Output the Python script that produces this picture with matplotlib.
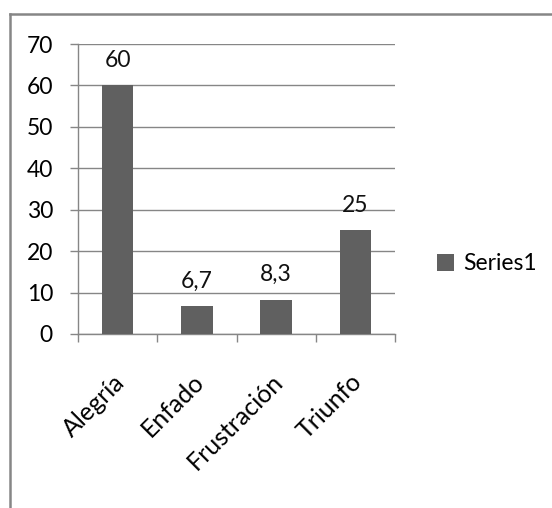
import matplotlib
matplotlib.use('Agg')
import matplotlib.pyplot as plt
import matplotlib.transforms as mtransforms
from matplotlib.lines import Line2D

categories = ['Alegría', 'Enfado', 'Frustración', 'Triunfo']
values = [60, 6.7, 8.3, 25]
value_labels = ['60', '6,7', '8,3', '25']
series_name = 'Series1'
yticks = [0, 10, 20, 30, 40, 50, 60, 70]

plt.rcParams['font.family'] = ['Lato', 'DejaVu Sans']
grey = '#868686'
bar_color = '#606060'
fs = 16.5

fig = plt.figure(figsize=(5.52, 5.08), dpi=100)
ax = fig.add_axes([78 / 552, 1 - 334 / 508, (395 - 78) / 552, (334 - 44) / 508])

x = range(len(categories))
bars = ax.bar(x, values, width=0.4, color=bar_color, label=series_name, zorder=3)

for b, lab in zip(bars, value_labels):
    ax.annotate(lab, (b.get_x() + b.get_width() / 2, b.get_height()),
                xytext=(0, 10.5), textcoords='offset points',
                ha='center', va='bottom', fontsize=fs, color='#111111')

ax.set_xlim(-0.5, len(categories) - 0.5)
ax.set_ylim(0, 70)
ax.set_yticks(yticks)
ax.yaxis.grid(True, color=grey, linewidth=1, zorder=0)
ax.set_axisbelow(True)

ax.set_xticks(list(x))
ax.set_xticklabels(categories, rotation=45, ha='right', rotation_mode='anchor')
ax.set_xticks([i - 0.5 for i in range(len(categories) + 1)], minor=True)
ax.tick_params(axis='x', which='major', length=0, pad=26, labelsize=18)
ax.tick_params(axis='x', which='minor', length=6, width=1, color=grey, direction='out')
ax.tick_params(axis='y', length=6, width=1, color=grey, pad=12, labelsize=fs)

# nudge category labels left a bit, like the original
shift = mtransforms.ScaledTranslation(-5 / 100, 0, fig.dpi_scale_trans)
for t in ax.get_xticklabels():
    t.set_transform(t.get_transform() + shift)

for s in ['top', 'right']:
    ax.spines[s].set_visible(False)
for s in ['left', 'bottom']:
    ax.spines[s].set_color(grey)
    ax.spines[s].set_linewidth(1)

fig.legend(loc='center left', bbox_to_anchor=(437 / 552, 1 - 264 / 508),
           frameon=False, fontsize=fs, handlelength=0.75, handleheight=0.75,
           handletextpad=0.4, borderpad=0, borderaxespad=0)

# chart outline: only top and left edges are in the crop
fig.add_artist(Line2D([10 / 552, 1], [1 - 14 / 508, 1 - 14 / 508], color=grey, linewidth=1.8))
fig.add_artist(Line2D([10 / 552, 10 / 552], [0, 1 - 14 / 508], color=grey, linewidth=1.8))

fig.savefig('out.png', dpi=100, facecolor='white')
